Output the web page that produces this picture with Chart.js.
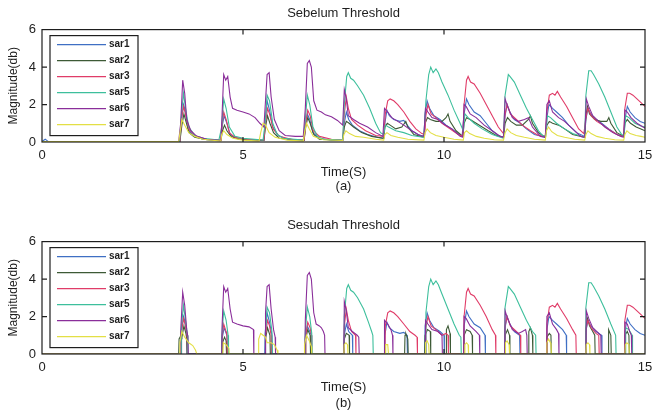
<!DOCTYPE html>
<html>
<head>
<meta charset="utf-8">
<script src="https://cdn.jsdelivr.net/npm/chart.js@4.4.0/dist/chart.umd.min.js"></script>
<style>
  body { margin: 0; background: #fff; width: 654px; height: 413px; overflow: hidden; position: relative; }
  canvas { position: absolute; left: 0; }
  #chartBefore { top: 0; }
  #chartAfter { top: 212px; }
</style>
</head>
<body>
<canvas id="chartBefore" width="654" height="200"></canvas>
<canvas id="chartAfter" width="654" height="200"></canvas>
<script>
// series names + colours (legend order)
const seriesNames = ["sar1", "sar2", "sar3", "sar5", "sar6", "sar7"];
const seriesColors = ["#3f6fc4", "#3d5a36", "#e03c68", "#3dbf9c", "#8a2e9a", "#e3df45"];
const xTicks = [0, 5, 10, 15];
const yTicks = [0, 2, 4, 6];

// (a) Sebelum Threshold  -- [time, magnitude]
const sar1Before = [[0,0.03],[0.08,0.15],[0.15,0.03],[3.43,0.03],[3.47,1.2],[3.52,2.0],[3.56,1.7],[3.63,0.7],[3.75,0.35],[4.0,0.15],[4.45,0.08],
  [4.48,0.8],[4.53,1.4],[4.6,1.0],[4.68,0.4],[4.85,0.2],[5.2,0.1],[5.52,0.08],
  [5.55,1.1],[5.6,2.2],[5.66,1.7],[5.74,0.8],[5.88,0.35],[6.1,0.15],[6.52,0.08],
  [6.55,0.9],[6.6,1.5],[6.66,1.2],[6.74,0.5],[6.9,0.2],[7.2,0.1],[7.48,0.08],
  [7.52,1.0],[7.57,1.6],[7.63,1.2],[7.72,0.9],[7.9,0.6],[8.1,0.4],[8.35,0.25],[8.5,0.2],
  [8.53,1.0],[8.58,1.7],[8.64,1.4],[8.75,1.2],[8.9,1.1],[9.0,1.15],[9.05,1.0],[9.2,0.6],[9.35,0.4],[9.5,0.3],
  [9.53,1.5],[9.58,2.2],[9.64,1.8],[9.75,1.4],[9.9,1.2],[10.05,0.9],[10.25,0.6],[10.45,0.3],
  [10.5,1.5],[10.56,2.3],[10.62,2.0],[10.75,1.6],[10.9,1.4],[11.05,1.0],[11.2,0.6],[11.35,0.35],[11.48,0.25],
  [11.52,1.4],[11.57,2.0],[11.64,1.6],[11.75,1.2],[11.9,1.0],[12.05,0.7],[12.25,0.4],[12.52,0.25],
  [12.56,1.3],[12.61,2.0],[12.7,1.8],[12.8,1.6],[12.95,1.3],[13.1,0.9],[13.3,0.5],[13.5,0.3],
  [13.53,1.2],[13.58,1.8],[13.65,1.5],[13.78,1.2],[13.92,1.0],[14.1,0.7],[14.3,0.4],[14.47,0.3],
  [14.5,1.2],[14.56,1.9],[14.63,1.6],[14.75,1.3],[14.88,1.1],[15,1.0]];
const sar2Before = [[0,0.03],[3.43,0.03],[3.48,0.9],[3.53,1.5],[3.58,1.1],[3.66,0.5],[3.8,0.25],[4.1,0.12],[4.45,0.08],
  [4.49,0.6],[4.54,0.9],[4.6,0.6],[4.7,0.3],[4.9,0.15],[5.52,0.08],
  [5.56,0.8],[5.61,1.4],[5.67,1.0],[5.76,0.5],[5.9,0.2],[6.52,0.08],
  [6.56,0.8],[6.61,1.3],[6.67,1.0],[6.76,0.4],[6.9,0.15],[7.48,0.08],
  [7.52,0.8],[7.57,1.1],[7.64,1.0],[7.75,0.8],[7.95,0.5],[8.2,0.3],[8.5,0.2],
  [8.53,0.8],[8.59,1.0],[8.66,0.9],[8.8,0.7],[8.95,0.8],[9.05,1.1],[9.1,0.8],[9.25,0.4],[9.5,0.25],
  [9.53,1.0],[9.59,1.3],[9.66,1.2],[9.8,1.1],[9.95,1.1],[10.05,1.3],[10.1,1.5],[10.15,1.1],[10.3,0.6],[10.47,0.3],
  [10.5,1.0],[10.56,1.3],[10.65,1.2],[10.8,1.0],[10.95,0.8],[11.1,0.6],[11.3,0.35],[11.48,0.25],
  [11.52,1.0],[11.58,1.3],[11.66,1.1],[11.8,0.9],[11.95,0.9],[12.1,1.2],[12.15,1.4],[12.2,1.0],[12.35,0.5],[12.52,0.25],
  [12.56,0.9],[12.62,1.1],[12.7,1.0],[12.85,0.9],[13.0,0.7],[13.2,0.4],[13.5,0.25],
  [13.53,1.4],[13.57,1.9],[13.62,1.5],[13.75,1.2],[13.9,1.1],[14.05,1.1],[14.1,1.3],[14.15,1.0],[14.3,0.5],[14.47,0.3],
  [14.5,1.0],[14.56,1.2],[14.64,1.0],[14.78,0.8],[14.9,0.7],[15,0.6]];
const sar3Before = [[0,0.03],[3.43,0.03],[3.47,1.2],[3.52,1.9],[3.57,1.5],[3.65,0.7],[3.8,0.35],[4.1,0.15],[4.45,0.1],
  [4.48,0.9],[4.52,1.6],[4.58,1.2],[4.66,0.5],[4.8,0.25],[5.1,0.15],[5.52,0.1],
  [5.56,1.0],[5.61,1.8],[5.66,1.5],[5.75,0.7],[5.9,0.3],[6.2,0.15],[6.52,0.1],
  [6.56,1.0],[6.61,1.7],[6.67,1.4],[6.75,0.6],[6.9,0.3],[7.2,0.15],[7.48,0.1],
  [7.52,1.5],[7.57,2.4],[7.62,1.8],[7.7,1.2],[7.85,0.9],[8.05,0.6],[8.3,0.35],[8.5,0.3],
  [8.54,1.5],[8.6,2.2],[8.66,2.3],[8.75,2.2],[8.85,2.0],[9.0,1.6],[9.15,1.1],[9.3,0.7],[9.45,0.45],[9.52,0.4],
  [9.55,1.4],[9.6,2.0],[9.68,1.5],[9.8,1.3],[9.95,1.0],[10.15,0.7],[10.35,0.4],[10.47,0.3],
  [10.5,2.0],[10.56,3.3],[10.6,3.5],[10.66,3.2],[10.75,3.1],[10.9,2.6],[11.05,2.0],[11.2,1.4],[11.35,0.8],[11.48,0.45],
  [11.52,1.5],[11.57,2.0],[11.65,1.5],[11.8,1.2],[11.95,0.9],[12.15,0.6],[12.35,0.35],[12.52,0.3],
  [12.56,1.6],[12.62,2.5],[12.7,2.6],[12.76,2.5],[12.82,2.7],[12.9,2.4],[13.05,1.9],[13.2,1.3],[13.35,0.7],[13.48,0.45],
  [13.53,1.3],[13.58,1.8],[13.66,1.4],[13.8,1.1],[13.95,0.9],[14.15,0.6],[14.35,0.35],[14.47,0.3],
  [14.5,1.8],[14.56,2.6],[14.62,2.6],[14.7,2.5],[14.8,2.3],[14.9,2.1],[15,1.9]];
const sar5Before = [[0,0.02],[3.42,0.02],[3.47,1.5],[3.52,2.6],[3.57,1.8],[3.65,0.8],[3.8,0.35],[4.0,0.2],[4.4,0.1],
  [4.47,0.8],[4.52,2.3],[4.58,1.8],[4.66,0.8],[4.8,0.3],[5.0,0.2],[5.5,0.1],
  [5.56,1.2],[5.6,2.5],[5.66,2.2],[5.74,1.0],[5.85,0.4],[6.0,0.2],[6.5,0.1],
  [6.55,1.2],[6.6,2.5],[6.66,2.0],[6.74,0.8],[6.85,0.3],[7.0,0.15],[7.48,0.1],
  [7.52,2.0],[7.58,3.5],[7.62,3.7],[7.68,3.4],[7.75,3.3],[7.85,3.0],[8.0,2.5],[8.15,1.8],[8.3,1.0],[8.42,0.5],[8.5,0.4],
  [8.54,0.9],[8.62,0.8],[8.8,0.6],[9.0,0.5],[9.2,0.35],[9.5,0.25],
  [9.55,2.2],[9.62,3.6],[9.67,4.0],[9.73,3.7],[9.8,3.9],[9.86,3.7],[9.95,3.2],[10.1,2.5],[10.25,1.7],[10.4,1.0],[10.48,0.6],
  [10.52,1.5],[10.6,1.3],[10.75,1.0],[10.95,0.7],[11.2,0.4],[11.48,0.2],
  [11.52,2.5],[11.6,3.6],[11.64,3.5],[11.75,3.2],[11.9,2.5],[12.05,1.8],[12.2,1.2],[12.35,0.6],[12.45,0.35],[12.53,0.3],
  [12.57,1.4],[12.65,1.3],[12.8,1.0],[13.0,0.7],[13.2,0.45],[13.5,0.25],
  [13.53,2.5],[13.6,3.8],[13.66,3.8],[13.72,3.6],[13.85,3.1],[14.0,2.4],[14.15,1.6],[14.3,0.8],[14.42,0.4],[14.48,0.35],
  [14.52,1.4],[14.6,1.3],[14.75,1.0],[14.9,0.85],[15,0.8]];
const sar6Before = [[0,0.03],[3.4,0.03],[3.45,1.0],[3.5,3.3],[3.55,2.6],[3.6,1.2],[3.7,0.6],[3.85,0.3],[4.1,0.15],[4.45,0.08],
  [4.48,1.5],[4.52,3.6],[4.57,3.3],[4.62,3.5],[4.68,2.4],[4.74,1.8],[4.85,1.7],[5.0,1.6],[5.15,1.5],[5.3,1.3],[5.42,1.0],[5.52,0.8],
  [5.56,2.2],[5.6,3.6],[5.65,3.7],[5.7,2.4],[5.78,1.2],[5.9,0.6],[6.05,0.35],[6.3,0.3],[6.5,0.3],
  [6.55,1.8],[6.6,4.2],[6.65,4.35],[6.7,4.0],[6.76,2.2],[6.84,1.7],[6.95,1.6],[7.05,1.45],[7.2,1.35],[7.35,1.15],[7.48,0.9],
  [7.52,2.8],[7.57,2.3],[7.62,1.4],[7.75,1.2],[7.9,1.0],[8.1,0.8],[8.3,0.5],[8.48,0.3],
  [8.52,1.8],[8.6,1.6],[8.7,1.3],[8.85,1.1],[9.0,0.9],[9.2,0.6],[9.4,0.35],[9.5,0.3],
  [9.54,1.8],[9.6,1.6],[9.7,1.3],[9.85,1.2],[10.0,0.95],[10.2,0.7],[10.4,0.3],[10.47,0.25],
  [10.5,2.0],[10.55,1.9],[10.65,1.5],[10.8,1.3],[11.0,0.9],[11.2,0.6],[11.4,0.3],[11.48,0.25],
  [11.52,2.3],[11.58,1.9],[11.7,1.3],[11.85,1.1],[12.0,1.2],[12.1,1.3],[12.2,0.8],[12.4,0.3],[12.52,0.25],
  [12.56,2.0],[12.62,2.2],[12.7,1.6],[12.85,1.3],[13.0,1.1],[13.2,0.7],[13.4,0.3],[13.5,0.25],
  [13.54,2.3],[13.6,1.9],[13.7,1.4],[13.85,1.1],[14.0,0.8],[14.2,0.5],[14.4,0.3],[14.47,0.25],
  [14.5,1.7],[14.56,1.6],[14.65,1.3],[14.8,1.0],[14.95,0.8],[15,0.75]];
const sar7Before = [[0,0.02],[3.4,0.02],[3.44,0.6],[3.48,1.2],[3.55,0.9],[3.65,0.5],[3.8,0.3],[4.0,0.15],[4.45,0.05],
  [4.47,0.4],[4.52,0.6],[4.6,0.4],[4.75,0.2],[5.0,0.1],[5.4,0.05],
  [5.44,0.5],[5.5,1.0],[5.56,0.9],[5.65,0.5],[5.8,0.25],[6.1,0.1],[6.5,0.05],
  [6.53,0.5],[6.58,1.0],[6.65,0.7],[6.75,0.3],[7.0,0.12],[7.48,0.08],
  [7.51,0.4],[7.56,0.6],[7.65,0.45],[7.8,0.3],[8.0,0.25],[8.3,0.15],[8.5,0.1],
  [8.53,0.4],[8.58,0.5],[8.68,0.35],[8.85,0.25],[9.1,0.15],[9.5,0.1],
  [9.53,0.5],[9.58,0.7],[9.66,0.5],[9.8,0.35],[10.0,0.25],[10.25,0.15],[10.48,0.1],
  [10.51,0.5],[10.56,0.6],[10.64,0.45],[10.8,0.3],[11.0,0.2],[11.25,0.12],[11.48,0.1],
  [11.52,0.5],[11.57,0.7],[11.66,0.5],[11.8,0.35],[12.0,0.25],[12.25,0.15],[12.52,0.1],
  [12.55,0.6],[12.6,0.8],[12.68,0.55],[12.82,0.35],[13.0,0.25],[13.25,0.15],[13.5,0.1],
  [13.53,0.4],[13.58,0.6],[13.66,0.45],[13.8,0.3],[14.0,0.2],[14.25,0.12],[14.47,0.1],
  [14.5,0.4],[14.55,0.6],[14.63,0.45],[14.78,0.35],[14.9,0.3],[15,0.25]];

// (b) Sesudah Threshold
const sar1After = [[0,0],[3.46,0],[3.47,1.2],[3.52,2.0],[3.56,1.7],[3.6,1.0],[3.61,0],
  [4.47,0],[4.48,0.8],[4.53,1.4],[4.6,1.0],[4.61,0],
  [5.54,0],[5.55,1.1],[5.6,2.2],[5.66,1.7],[5.72,1.0],[5.73,0],
  [6.54,0],[6.55,0.9],[6.6,1.5],[6.66,1.2],[6.7,1.0],[6.71,0],
  [7.51,0],[7.52,1.0],[7.57,1.6],[7.63,1.2],[7.72,1.0],[7.73,0],
  [8.52,0],[8.53,1.0],[8.58,1.7],[8.64,1.4],[8.75,1.2],[8.9,1.1],[9.0,1.15],[9.08,1.0],[9.09,0],
  [9.52,0],[9.53,1.5],[9.58,2.2],[9.64,1.8],[9.75,1.4],[9.9,1.2],[10.0,1.0],[10.01,0],
  [10.49,0],[10.5,1.5],[10.56,2.3],[10.62,2.0],[10.75,1.6],[10.9,1.4],[11.02,1.0],[11.03,0],
  [11.51,0],[11.52,1.4],[11.57,2.0],[11.64,1.6],[11.75,1.2],[11.88,1.0],[11.89,0],
  [12.55,0],[12.56,1.3],[12.61,2.0],[12.7,1.8],[12.8,1.6],[12.95,1.3],[13.04,1.0],[13.05,0],
  [13.52,0],[13.53,1.2],[13.58,1.8],[13.65,1.5],[13.78,1.2],[13.92,1.0],[13.93,0],
  [14.49,0],[14.5,1.2],[14.56,1.9],[14.63,1.6],[14.75,1.3],[14.88,1.1],[15,1.0]];
const sar2After = [[0,0],[3.4,0],[3.41,0.8],[3.46,1.0],[3.48,0.9],[3.53,1.5],[3.58,1.1],[3.6,0.8],[3.61,0],
  [4.48,0],[4.49,0.6],[4.54,0.9],[4.58,0.7],[4.59,0],
  [5.55,0],[5.56,0.8],[5.61,1.4],[5.67,1.0],[5.68,0],
  [6.55,0],[6.56,0.8],[6.61,1.3],[6.67,1.0],[6.68,0],
  [7.51,0],[7.52,0.8],[7.57,1.1],[7.64,1.0],[7.65,0],
  [9.02,0],[9.03,1.0],[9.05,1.1],[9.1,0.8],[9.11,0],
  [9.52,0],[9.53,1.0],[9.59,1.3],[9.66,1.2],[9.67,0],
  [10.05,0],[10.06,1.3],[10.1,1.5],[10.15,1.1],[10.16,0],
  [10.49,0],[10.5,1.0],[10.56,1.3],[10.65,1.2],[10.7,1.0],[10.71,0],
  [11.51,0],[11.52,1.0],[11.58,1.3],[11.63,1.0],[11.64,0],
  [12.1,0],[12.11,1.2],[12.15,1.4],[12.2,1.0],[12.21,0],
  [12.55,0],[12.56,0.9],[12.62,1.1],[12.66,1.0],[12.67,0],
  [13.52,0],[13.53,1.4],[13.57,1.9],[13.62,1.5],[13.7,1.2],[13.75,1.0],[13.76,0],
  [14.08,0],[14.09,1.2],[14.1,1.3],[14.15,1.0],[14.16,0],
  [14.49,0],[14.5,1.0],[14.56,1.2],[14.6,1.0],[14.61,0],[15,0]];
const sar3After = [[0,0],[3.46,0],[3.47,1.2],[3.52,1.9],[3.57,1.5],[3.61,1.0],[3.62,0],
  [4.47,0],[4.48,0.9],[4.52,1.6],[4.58,1.2],[4.6,1.0],[4.61,0],
  [5.55,0],[5.56,1.0],[5.61,1.8],[5.66,1.5],[5.7,1.0],[5.71,0],
  [6.55,0],[6.56,1.0],[6.61,1.7],[6.67,1.4],[6.7,1.0],[6.71,0],
  [7.51,0],[7.52,1.5],[7.57,2.4],[7.62,1.8],[7.7,1.2],[7.8,1.0],[7.81,0],
  [8.53,0],[8.54,1.5],[8.6,2.2],[8.66,2.3],[8.75,2.2],[8.85,2.0],[9.0,1.6],[9.15,1.2],[9.28,1.0],[9.33,0.9],[9.34,0],
  [9.54,0],[9.55,1.4],[9.6,2.0],[9.68,1.5],[9.8,1.3],[9.95,1.0],[10.05,1.1],[10.1,1.0],[10.11,0],
  [10.49,0],[10.5,2.0],[10.56,3.3],[10.6,3.5],[10.66,3.2],[10.75,3.1],[10.9,2.6],[11.05,2.0],[11.2,1.3],[11.28,1.0],[11.29,0],
  [11.51,0],[11.52,1.5],[11.57,2.0],[11.65,1.5],[11.8,1.2],[11.9,1.0],[11.91,0],
  [12.55,0],[12.56,1.6],[12.62,2.5],[12.7,2.6],[12.76,2.5],[12.82,2.7],[12.9,2.4],[13.05,1.9],[13.2,1.3],[13.28,1.0],[13.29,0],
  [13.52,0],[13.53,1.3],[13.58,1.8],[13.66,1.4],[13.78,1.1],[13.85,1.0],[13.86,0],
  [14.49,0],[14.5,1.8],[14.56,2.6],[14.62,2.6],[14.7,2.5],[14.8,2.3],[14.9,2.1],[15,1.9]];
const sar5After = [[0,0],[3.46,0],[3.47,1.5],[3.52,2.6],[3.57,1.8],[3.62,1.0],[3.63,0],
  [4.46,0],[4.47,0.9],[4.52,2.3],[4.58,1.8],[4.63,1.0],[4.64,0],
  [5.55,0],[5.56,1.2],[5.6,2.5],[5.66,2.2],[5.72,1.2],[5.73,0],
  [6.54,0],[6.55,1.2],[6.6,2.5],[6.66,2.0],[6.71,1.1],[6.72,0],
  [7.51,0],[7.52,2.0],[7.58,3.5],[7.62,3.7],[7.68,3.4],[7.75,3.3],[7.85,3.0],[8.0,2.4],[8.12,1.7],[8.2,1.2],[8.23,1.0],[8.24,0],
  [9.54,0],[9.55,2.2],[9.62,3.6],[9.67,4.0],[9.73,3.7],[9.8,3.9],[9.86,3.7],[9.95,3.2],[10.1,2.4],[10.25,1.6],[10.38,1.0],[10.42,0.9],[10.43,0],
  [11.51,0],[11.52,2.5],[11.6,3.6],[11.64,3.5],[11.75,3.2],[11.9,2.5],[12.05,1.8],[12.2,1.2],[12.28,1.0],[12.29,0],
  [13.52,0],[13.53,2.5],[13.6,3.8],[13.66,3.8],[13.72,3.6],[13.85,3.1],[14.0,2.4],[14.15,1.6],[14.27,1.0],[14.28,0],
  [14.51,0],[14.52,1.4],[14.6,1.3],[14.68,1.0],[14.69,0],[15,0]];
const sar6After = [[0,0],[3.44,0],[3.45,1.2],[3.5,3.3],[3.55,2.6],[3.6,1.3],[3.63,0.9],[3.64,0],
  [4.47,0],[4.48,1.5],[4.52,3.6],[4.57,3.3],[4.62,3.5],[4.68,2.4],[4.74,1.7],[4.85,1.6],[5.0,1.5],[5.15,1.45],[5.26,1.3],[5.27,0],
  [5.55,0],[5.56,2.2],[5.6,3.6],[5.65,3.7],[5.7,2.4],[5.76,1.3],[5.8,0.9],[5.81,0],
  [6.54,0],[6.55,1.8],[6.6,4.2],[6.65,4.35],[6.7,4.0],[6.76,2.2],[6.82,1.6],[6.9,1.5],[6.95,1.4],[7.0,1.2],[7.03,1.0],[7.04,0],
  [7.51,0],[7.52,2.8],[7.57,2.3],[7.62,1.4],[7.72,1.2],[7.84,1.0],[7.88,0.9],[7.89,0],
  [8.51,0],[8.52,1.8],[8.6,1.6],[8.68,1.3],[8.72,1.0],[8.73,0],
  [9.53,0],[9.54,1.8],[9.6,1.6],[9.7,1.3],[9.85,1.2],[9.95,1.0],[9.96,0],
  [10.49,0],[10.5,2.0],[10.55,1.9],[10.65,1.5],[10.8,1.2],[10.88,1.0],[10.89,0],
  [11.51,0],[11.52,2.3],[11.58,1.9],[11.7,1.3],[11.85,1.1],[11.95,1.2],[12.03,1.3],[12.06,1.0],[12.07,0],
  [12.55,0],[12.56,2.0],[12.62,2.2],[12.7,1.6],[12.8,1.3],[12.85,1.1],[12.86,0],
  [13.53,0],[13.54,2.3],[13.6,1.9],[13.7,1.4],[13.85,1.1],[13.9,1.0],[13.91,0],
  [14.49,0],[14.5,1.7],[14.56,1.6],[14.62,1.2],[14.66,1.0],[14.67,0],[15,0]];
const sar7After = [[0,0],[3.42,0],[3.43,0.6],[3.48,1.2],[3.55,0.9],[3.65,0.6],[3.75,0.45],[3.82,0.2],[3.85,0],
  [4.5,0],[4.51,0.6],[4.58,0.5],[4.65,0.3],[4.66,0],
  [5.38,0],[5.39,0.8],[5.44,1.1],[5.5,1.0],[5.56,0.9],[5.6,0.6],[5.7,0.6],[5.78,0.5],[5.85,0.2],[5.87,0],
  [6.52,0],[6.53,0.5],[6.58,1.0],[6.65,0.7],[6.7,0.4],[6.71,0],
  [7.51,0],[7.52,0.5],[7.56,0.6],[7.6,0.5],[7.61,0],
  [8.54,0],[8.55,0.5],[8.6,0.5],[8.62,0],
  [9.53,0],[9.54,0.6],[9.58,0.7],[9.62,0.5],[9.63,0],
  [10.51,0],[10.52,0.5],[10.56,0.6],[10.6,0.5],[10.61,0],
  [11.52,0],[11.53,0.6],[11.57,0.7],[11.62,0.5],[11.63,0],
  [12.55,0],[12.56,0.6],[12.6,0.8],[12.66,0.55],[12.67,0],
  [13.53,0],[13.54,0.5],[13.58,0.6],[13.62,0.5],[13.63,0],
  [14.5,0],[14.51,0.5],[14.55,0.6],[14.6,0.5],[14.61,0],[15,0]];

const FONT = "'Liberation Sans', Arial, sans-serif";
const INK = "#1e1e1e";

// box round the plot + little ticks pointing inward, matlab style
const framePlugin = {
    id: "frame",
    afterDatasetsDraw(chart) {
        const {ctx, chartArea: a, scales} = chart;
        ctx.save();
        ctx.strokeStyle = INK;
        ctx.lineWidth = 1.2;
        ctx.strokeRect(a.left, a.top, a.right - a.left, a.bottom - a.top);
        ctx.beginPath();
        xTicks.slice(1, -1).forEach(v => {
            const px = scales.x.getPixelForValue(v);
            ctx.moveTo(px, a.bottom); ctx.lineTo(px, a.bottom - 5);
            ctx.moveTo(px, a.top); ctx.lineTo(px, a.top + 5);
        });
        yTicks.slice(1, -1).forEach(v => {
            const py = scales.y.getPixelForValue(v);
            ctx.moveTo(a.left, py); ctx.lineTo(a.left + 5, py);
            ctx.moveTo(a.right, py); ctx.lineTo(a.right - 5, py);
        });
        ctx.stroke();
        ctx.restore();
    }
};

// legend box sitting inside the top-left corner of the plot
const boxLegendPlugin = {
    id: "boxLegend",
    afterDatasetsDraw(chart) {
        const {ctx, chartArea: a} = chart;
        const x0 = a.left + 8, y0 = a.top + 6, w = 88, h = 100;
        ctx.save();
        ctx.fillStyle = "#fff";
        ctx.fillRect(x0, y0, w, h);
        ctx.strokeStyle = INK;
        ctx.lineWidth = 1.2;
        ctx.strokeRect(x0, y0, w, h);
        ctx.font = "bold 10px " + FONT;
        ctx.textBaseline = "middle";
        chart.data.datasets.forEach((ds, i) => {
            const y = y0 + 9 + i * 16;
            ctx.strokeStyle = ds.borderColor;
            ctx.lineWidth = 1.3;
            ctx.beginPath();
            ctx.moveTo(x0 + 7, y);
            ctx.lineTo(x0 + 56, y);
            ctx.stroke();
            ctx.fillStyle = INK;
            ctx.fillText(ds.label, x0 + 59, y);
        });
        ctx.restore();
    }
};

function makeDatasets(seriesList) {
    return seriesList.map((pts, i) => ({
        label: seriesNames[i],
        data: pts.map(p => ({x: p[0], y: p[1]})),
        borderColor: seriesColors[i],
        borderWidth: 1.1,
        pointRadius: 0,
        tension: 0,
        order: seriesList.length - i
    }));
}

function makeChart(canvasId, title, seriesList, subLabel, xTitleLine, xTitlePad) {
    return new Chart(document.getElementById(canvasId), {
        type: "line",
        data: {datasets: makeDatasets(seriesList)},
        options: {
            responsive: false,
            animation: false,
            events: [],
            layout: {padding: {left: 0, right: 9, top: 0, bottom: 0}},
            plugins: {
                legend: {display: false},
                tooltip: {enabled: false},
                title: {
                    display: true,
                    text: title,
                    fullSize: false,
                    color: INK,
                    font: {family: FONT, size: 13, weight: "normal", lineHeight: 1.2},
                    padding: {top: 6, bottom: 8}
                }
            },
            scales: {
                x: {
                    type: "linear",
                    min: xTicks[0],
                    max: xTicks[xTicks.length - 1],
                    afterBuildTicks: s => { s.ticks = xTicks.map(v => ({value: v})); },
                    ticks: {color: INK, padding: 6, font: {family: FONT, size: 13}},
                    grid: {display: false, drawTicks: false},
                    border: {display: false},
                    title: {
                        display: true,
                        text: ["Time(S)", subLabel],
                        color: INK,
                        font: {family: FONT, size: 13, lineHeight: xTitleLine},
                        padding: {top: 0, bottom: xTitlePad}
                    },
                    // keep the plot box fixed; the end labels may hang over the sides
                    afterFit: s => { s.height = 58; s.paddingLeft = 4; s.paddingRight = 4; }
                },
                y: {
                    min: yTicks[0],
                    max: yTicks[yTicks.length - 1],
                    afterBuildTicks: s => { s.ticks = yTicks.map(v => ({value: v})); },
                    ticks: {color: INK, padding: 6, font: {family: FONT, size: 13}},
                    grid: {display: false, drawTicks: false},
                    border: {display: false},
                    title: {
                        display: true,
                        text: "Magnitude(db)",
                        color: INK,
                        font: {family: FONT, size: 12},
                        padding: {top: 6, bottom: 0}
                    },
                    afterFit: s => { s.width = 42; }
                }
            }
        },
        plugins: [framePlugin, boxLegendPlugin]
    });
}

makeChart("chartBefore", "Sebelum Threshold",
    [sar1Before, sar2Before, sar3Before, sar5Before, sar6Before, sar7Before], "(a)", 1.1, 6);
makeChart("chartAfter", "Sesudah Threshold",
    [sar1After, sar2After, sar3After, sar5After, sar6After, sar7After], "(b)", 1.23, 1);
</script>
</body>
</html>
